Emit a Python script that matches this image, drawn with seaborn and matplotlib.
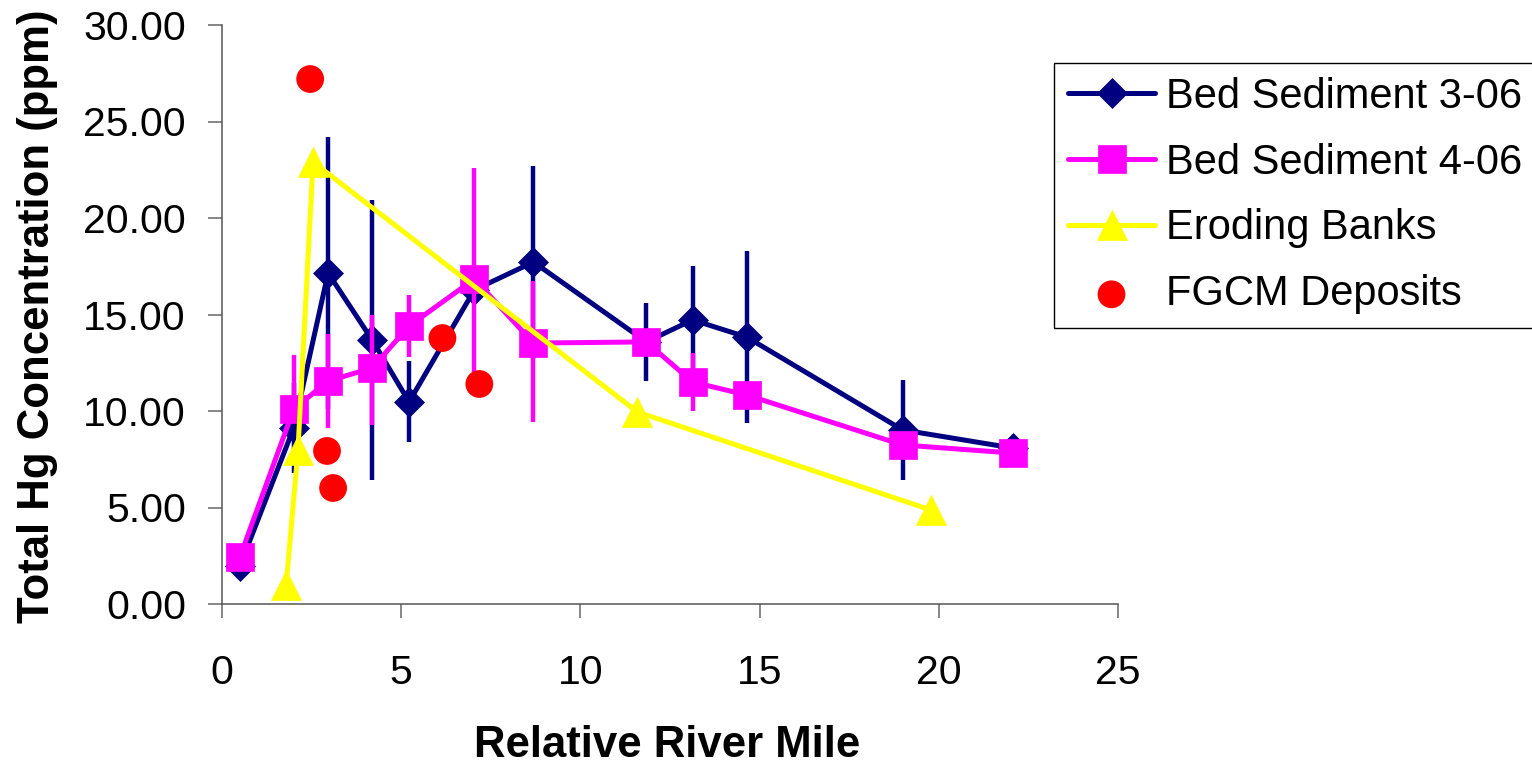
import numpy as np
import pandas as pd
import matplotlib
matplotlib.use("Agg")
import matplotlib.pyplot as plt
import seaborn as sns

# ---- data ----
river_mile = [0.5, 2.0, 2.96, 4.19, 5.22, 7.04, 8.69, 11.84, 13.13, 14.64, 18.99, 22.07]

bed_306 = [1.97, 9.12, 17.15, 13.68, 10.47, 16.27, 17.72, 13.58, 14.72, 13.83, 9.02, 8.08]
bed_306_err_lo = [0.0, 2.33, 7.05, 7.25, 2.10, 0.0, 5.00, 2.00, 2.80, 4.45, 2.60, 0.0]
bed_306_err_hi = [0.0, 2.33, 7.05, 7.25, 2.10, 0.0, 5.00, 2.00, 2.80, 4.45, 2.60, 0.0]

bed_406 = [2.44, 10.10, 11.55, 12.23, 14.40, 16.84, 13.52, 13.58, 11.50, 10.83, 8.24, 7.82]
bed_406_err_lo = [0.0, 0.0, 2.43, 2.95, 1.62, 5.75, 4.10, 0.0, 1.50, 0.0, 0.0, 0.0]
bed_406_err_hi = [0.0, 2.80, 2.43, 2.75, 1.62, 5.75, 3.20, 0.0, 1.50, 0.0, 0.0, 0.0]

bank_x = [1.79, 2.12, 2.54, 11.59, 19.78]
bank_y = [0.98, 7.98, 22.90, 9.95, 4.87]

fgcm_x = [2.46, 2.93, 3.10, 6.15, 7.18]
fgcm_y = [27.20, 7.93, 6.01, 13.78, 11.40]

labels = ["Bed Sediment 3-06", "Bed Sediment 4-06", "Eroding Banks", "FGCM Deposits"]
x_ticks = [0, 5, 10, 15, 20, 25]
y_ticks = [0, 5, 10, 15, 20, 25, 30]

NAVY = "#000080"
MAGENTA = "#FF00FF"
YELLOW = "#FFFF00"
RED = "#FF0000"

# ---- style ----
sns.set_theme(style="white")
plt.rcParams["font.family"] = ["Liberation Sans", "DejaVu Sans"]
plt.rcParams["text.color"] = "black"
plt.rcParams["axes.labelcolor"] = "black"

fig = plt.figure(figsize=(15.32, 7.63), dpi=100)
W, H = 1532, 763
ax = fig.add_axes([222 / W, 1 - 604 / H, 896 / W, 579 / H])

df306 = pd.DataFrame({"x": river_mile, "y": bed_306})
df406 = pd.DataFrame({"x": river_mile, "y": bed_406})
dfbank = pd.DataFrame({"x": bank_x, "y": bank_y})
dffgcm = pd.DataFrame({"x": fgcm_x, "y": fgcm_y})

# Bed sediment 3-06
ax.errorbar(river_mile, bed_306, yerr=[bed_306_err_lo, bed_306_err_hi], fmt="none",
            ecolor=NAVY, elinewidth=3.2, capsize=0, zorder=2)
sns.lineplot(data=df306, x="x", y="y", ax=ax, color=NAVY, linewidth=3.6,
             marker="D", markersize=15.3, markeredgecolor=NAVY, markeredgewidth=0.5,
             errorbar=None, label=labels[0], zorder=3)

# Bed sediment 4-06
ax.errorbar(river_mile, bed_406, yerr=[bed_406_err_lo, bed_406_err_hi], fmt="none",
            ecolor=MAGENTA, elinewidth=3.2, capsize=0, zorder=4)
sns.lineplot(data=df406, x="x", y="y", ax=ax, color=MAGENTA, linewidth=3.6,
             marker="s", markersize=19.5, markeredgecolor=MAGENTA, markeredgewidth=0.5,
             errorbar=None, label=labels[1], zorder=5)

# Eroding banks
sns.lineplot(data=dfbank, x="x", y="y", ax=ax, color=YELLOW, linewidth=3.6,
             marker="^", markersize=21.5, markeredgecolor=YELLOW, markeredgewidth=0.5,
             errorbar=None, label=labels[2], zorder=6)

# FGCM deposits
sns.scatterplot(data=dffgcm, x="x", y="y", ax=ax, color=RED, s=400, marker="o",
                edgecolor="none", linewidth=0, label=labels[3], zorder=7)

# ---- axes ----
ax.set_xlim(0, 25)
ax.set_ylim(0, 30)
ax.set_xticks(x_ticks)
ax.set_xticklabels([str(t) for t in x_ticks])
ax.set_yticks(y_ticks)
ax.set_yticklabels([f"{t:.2f}" for t in y_ticks])

for side in ["top", "right"]:
    ax.spines[side].set_visible(False)
for side in ["left", "bottom"]:
    ax.spines[side].set_color("#555555")
    ax.spines[side].set_linewidth(1.1)

ax.tick_params(axis="both", which="major", direction="out", length=10, width=1.1,
               color="#666666", labelsize=29.5, labelcolor="black")
ax.tick_params(axis="y", pad=16, left=True)
ax.tick_params(axis="x", pad=26, bottom=True)

ax.set_xlabel("Relative River Mile", fontsize=31.5, fontweight="bold", color="black")
ax.set_ylabel("Total Hg Concentration (ppm)", fontsize=31.5, fontweight="bold", color="black")
ax.xaxis.set_label_coords(0.497, -0.209)
ax.yaxis.set_label_coords(-0.183, 0.497)
ax.grid(False)

leg = ax.legend(loc="upper left", bbox_to_anchor=(1054 / W, 1 - 63 / H),
                bbox_transform=fig.transFigure, borderaxespad=0, fontsize=30,
                frameon=True, fancybox=False, framealpha=1, edgecolor="black",
                handlelength=2.1, handletextpad=0.25, labelspacing=0.62,
                borderpad=0.33, markerscale=1.0)
leg.get_frame().set_linewidth(1.0)
for t in leg.get_texts():
    t.set_color("black")

fig.savefig("out.png", dpi=100)
